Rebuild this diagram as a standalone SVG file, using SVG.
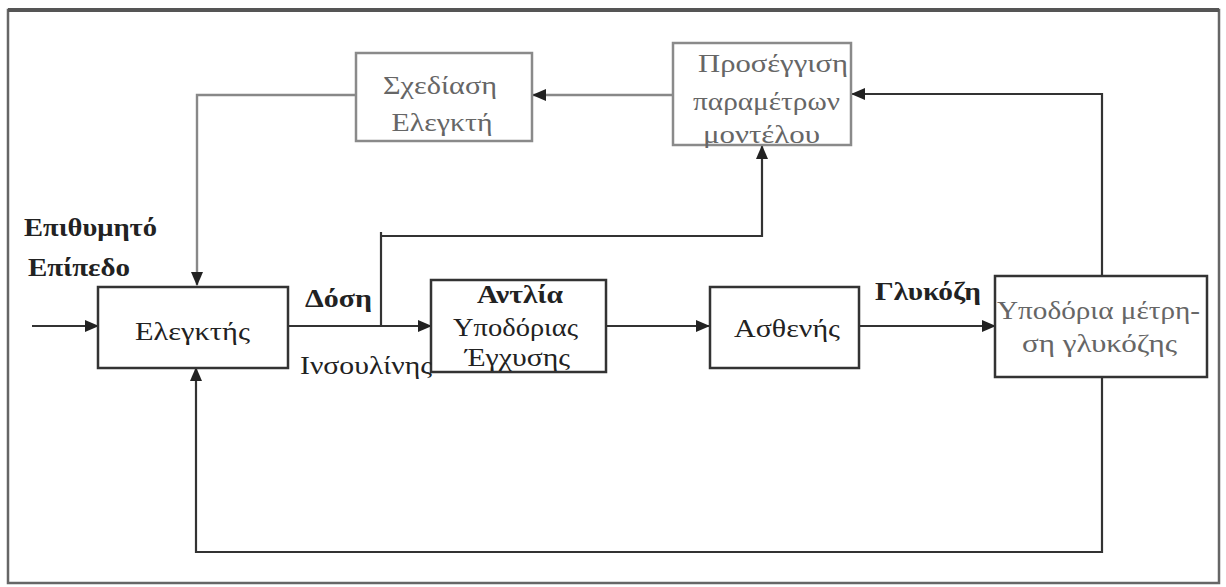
<svg xmlns="http://www.w3.org/2000/svg" width="1226" height="587" viewBox="0 0 1226 587">
<defs>
<marker id="ah" markerWidth="14" markerHeight="12" refX="13" refY="6" orient="auto" markerUnits="userSpaceOnUse">
<path d="M0,0 L14,6 L0,12 z" fill="#222"/>
</marker>
<style>
.box{fill:#fff;stroke:#333;stroke-width:2.5}
.gbox{fill:#fff;stroke:#8a8a8a;stroke-width:2.5}
.ln{fill:none;stroke:#333;stroke-width:2.2}
.gln{fill:none;stroke:#888;stroke-width:2.4}
.t{font-family:"Liberation Serif","DejaVu Serif",serif;font-size:26px;fill:#222}
.gt{font-family:"Liberation Serif","DejaVu Serif",serif;font-size:26px;fill:#666}
.b{font-weight:bold}
</style>
</defs>
<rect x="0" y="0" width="1226" height="587" fill="#fff"/>
<rect x="8" y="10" width="1211" height="573" fill="none" stroke="#666" stroke-width="2.5"/>
<line x1="8" y1="10" x2="1219" y2="10" stroke="#555" stroke-width="4"/>

<g id="connectors">
<polyline class="gln" points="356,95 197,95 197,285" marker-end="url(#ah)"/>
<line class="gln" x1="673" y1="95" x2="533" y2="95" marker-end="url(#ah)"/>
<polyline class="ln" points="1102,276 1102,94 852,94" marker-end="url(#ah)"/>
<line class="ln" x1="32" y1="326" x2="98" y2="326" marker-end="url(#ah)"/>
<line class="ln" x1="288" y1="326" x2="431" y2="326" marker-end="url(#ah)"/>
<polyline class="ln" points="381,326 381,232"/>
<polyline class="ln" points="381,236 762,236 762,146" marker-end="url(#ah)"/>
<line class="ln" x1="605" y1="326" x2="709" y2="326" marker-end="url(#ah)"/>
<line class="ln" x1="859" y1="326" x2="995" y2="326" marker-end="url(#ah)"/>
<polyline class="ln" points="1102,377 1102,552 196,552 196,368" marker-end="url(#ah)"/>
</g>

<g id="sxediasi">
<rect class="gbox" x="356" y="53" width="176" height="88"/>
<text class="gt" x="440" y="94" text-anchor="middle" textLength="114" lengthAdjust="spacingAndGlyphs">Σχεδίαση</text>
<text class="gt" x="442" y="131" text-anchor="middle" textLength="101" lengthAdjust="spacingAndGlyphs">Ελεγκτή</text>
</g>

<g id="prosengisi">
<rect class="gbox" x="673" y="43" width="178" height="102"/>
<text class="gt" x="698" y="72" textLength="150" lengthAdjust="spacingAndGlyphs">Προσέγγιση</text>
<text class="gt" x="693" y="110" textLength="147" lengthAdjust="spacingAndGlyphs">παραμέτρων</text>
<text class="gt" x="703" y="143" textLength="117" lengthAdjust="spacingAndGlyphs">μοντέλου</text>
</g>

<g id="elegktis">
<rect class="box" x="98" y="287" width="190" height="81"/>
<text class="t" x="135" y="340" textLength="115" lengthAdjust="spacingAndGlyphs">Ελεγκτής</text>
</g>

<g id="antlia">
<rect class="box" x="431" y="280" width="175" height="92"/>
<text class="t b" x="477" y="303" textLength="86" lengthAdjust="spacingAndGlyphs">Αντλία</text>
<text class="t" x="453" y="336" textLength="125" lengthAdjust="spacingAndGlyphs">Υποδόριας</text>
<text class="t" x="465" y="366" textLength="105" lengthAdjust="spacingAndGlyphs">Έγχυσης</text>
</g>

<g id="asthenis">
<rect class="box" x="710" y="287" width="149" height="81"/>
<text class="t" x="734" y="337" textLength="106" lengthAdjust="spacingAndGlyphs">Ασθενής</text>
</g>

<g id="ypodoria">
<rect class="box" x="995" y="276" width="212" height="101"/>
<text class="gt" x="997" y="319" textLength="203" lengthAdjust="spacingAndGlyphs">Υποδόρια μέτρη-</text>
<text class="gt" x="1022" y="352" textLength="155" lengthAdjust="spacingAndGlyphs">ση γλυκόζης</text>
</g>

<g id="labels">
<text class="t b" x="24" y="236" textLength="133" lengthAdjust="spacingAndGlyphs">Επιθυμητό</text>
<text class="t b" x="28" y="276" textLength="102" lengthAdjust="spacingAndGlyphs">Επίπεδο</text>
<text class="t b" x="305" y="307" textLength="67" lengthAdjust="spacingAndGlyphs">Δόση</text>
<text class="t" x="300" y="374" textLength="132" lengthAdjust="spacingAndGlyphs">Ινσουλίνης</text>
<text class="t b" x="875" y="300" textLength="106" lengthAdjust="spacingAndGlyphs">Γλυκόζη</text>
</g>
</svg>
